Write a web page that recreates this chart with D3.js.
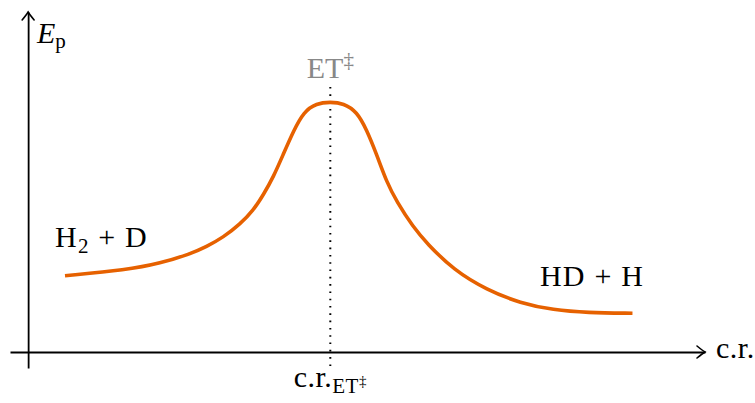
<!DOCTYPE html>
<html>
<head>
<meta charset="utf-8">
<script src="https://cdn.jsdelivr.net/npm/d3@7"></script>
<style>
  body { margin: 0; background: #fff; }
  text { font-family: "Liberation Serif", "DejaVu Serif", serif; }
</style>
</head>
<body>
<div id="svg-area"></div>
<script>
// Reaction coordinate (arbitrary units) and potential energy along the path
var reactionCoord = [0.61, 1.63, 2.19, 2.68, 2.95, 3.23, 3.51, 3.73, 3.89, 4.06, 4.22, 4.39, 4.56, 4.77, 5.0,
                     5.22, 5.44, 5.60, 5.77, 5.93, 6.10, 6.37, 6.60, 7.04, 7.59, 8.15, 8.69, 9.25, 10.0];
var energy = [3.05, 3.28, 3.55, 3.92, 4.21, 4.59, 5.12, 5.68, 6.28, 7.01, 7.90, 8.84, 9.61, 9.95, 10.0,
              9.95, 9.61, 8.90, 7.88, 6.81, 6.01, 5.00, 4.34, 3.28, 2.48, 1.95, 1.68, 1.57, 1.55];

// transition state position
var tsCoord = 5.0;

var svgWidth = 755;
var svgHeight = 403;

var svg = d3.select("#svg-area")
  .append("svg")
  .attr("width", svgWidth)
  .attr("height", svgHeight);

var xScale = d3.scaleLinear()
  .domain([-0.3, 11.2])
  .range([10, 705]);

var yScale = d3.scaleLinear()
  .domain([-0.64, 13.6])
  .range([368, 12]);

// axes without ticks: only the domain lines
var bottomAxis = d3.axisBottom(xScale).tickValues([]).tickSizeOuter(0);
var leftAxis = d3.axisLeft(yScale).tickValues([]).tickSizeOuter(0);

svg.append("g")
  .attr("transform", `translate(0, ${yScale(0)})`)
  .call(bottomAxis);

svg.append("g")
  .attr("transform", `translate(${xScale(0)}, 0)`)
  .call(leftAxis);

svg.selectAll(".domain")
  .attr("stroke", "#000")
  .attr("stroke-width", 1.8);

// arrow heads (tikz "to" style)
function arrowHead(tx, ty, angle) {
  svg.append("path")
    .attr("d", "M-8,-6 Q-2.5,-1.5 0,0 Q-2.5,1.5 -8,6")
    .attr("transform", `translate(${tx}, ${ty}) rotate(${angle})`)
    .attr("fill", "none")
    .attr("stroke", "#000")
    .attr("stroke-width", 1.6)
    .attr("stroke-linecap", "round");
}
arrowHead(xScale.range()[1], yScale(0), 0);
arrowHead(xScale(0), yScale.range()[1], -90);

// dotted line at the transition state
svg.append("line")
  .attr("x1", xScale(tsCoord))
  .attr("x2", xScale(tsCoord))
  .attr("y1", 87)
  .attr("y2", 370)
  .attr("stroke", "#000")
  .attr("stroke-width", 2)
  .attr("stroke-dasharray", "1.6 5.7");

// energy profile
var line = d3.line()
  .x((d, i) => xScale(reactionCoord[i]))
  .y(d => yScale(d))
  .curve(d3.curveBasis);

svg.append("path")
  .datum(energy)
  .attr("d", line)
  .attr("fill", "none")
  .attr("stroke", "#e66100")
  .attr("stroke-width", 3.6)
  .attr("stroke-linecap", "butt");

// labels
var fs = 30;

var ep = svg.append("text")
  .attr("x", 37)
  .attr("y", 43)
  .attr("font-size", fs);
ep.append("tspan").attr("font-style", "italic").text("E");
ep.append("tspan").attr("font-size", 21).attr("dy", 5).text("p");

svg.append("text")
  .attr("x", 716)
  .attr("y", 358)
  .attr("font-size", fs)
  .attr("letter-spacing", 0.5)
  .text("c.r.");

var et = svg.append("text")
  .attr("x", xScale(tsCoord))
  .attr("y", 78)
  .attr("text-anchor", "middle")
  .attr("fill", "#888")
  .attr("font-size", fs);
et.append("tspan").text("ET");
et.append("tspan").attr("font-size", 21).attr("dy", -11).text("‡");

var crEt = svg.append("text")
  .attr("x", xScale(tsCoord))
  .attr("y", 387)
  .attr("text-anchor", "middle")
  .attr("letter-spacing", 0.5)
  .attr("font-size", fs);
crEt.append("tspan").text("c.r.");
crEt.append("tspan").attr("font-size", 21).attr("dy", 6).text("ET");
crEt.append("tspan").attr("font-size", 15).attr("dy", -7).text("‡");

var left = svg.append("text")
  .attr("x", 55)
  .attr("y", 247)
  .attr("font-size", fs)
  .attr("letter-spacing", 1.2);
left.append("tspan").text("H");
left.append("tspan").attr("font-size", 21).attr("dy", 6).text("2");
left.append("tspan").attr("dy", -6).text(" + D");

svg.append("text")
  .attr("x", 540)
  .attr("y", 286)
  .attr("font-size", fs)
  .attr("letter-spacing", 1.2)
  .text("HD + H");
</script>
</body>
</html>
